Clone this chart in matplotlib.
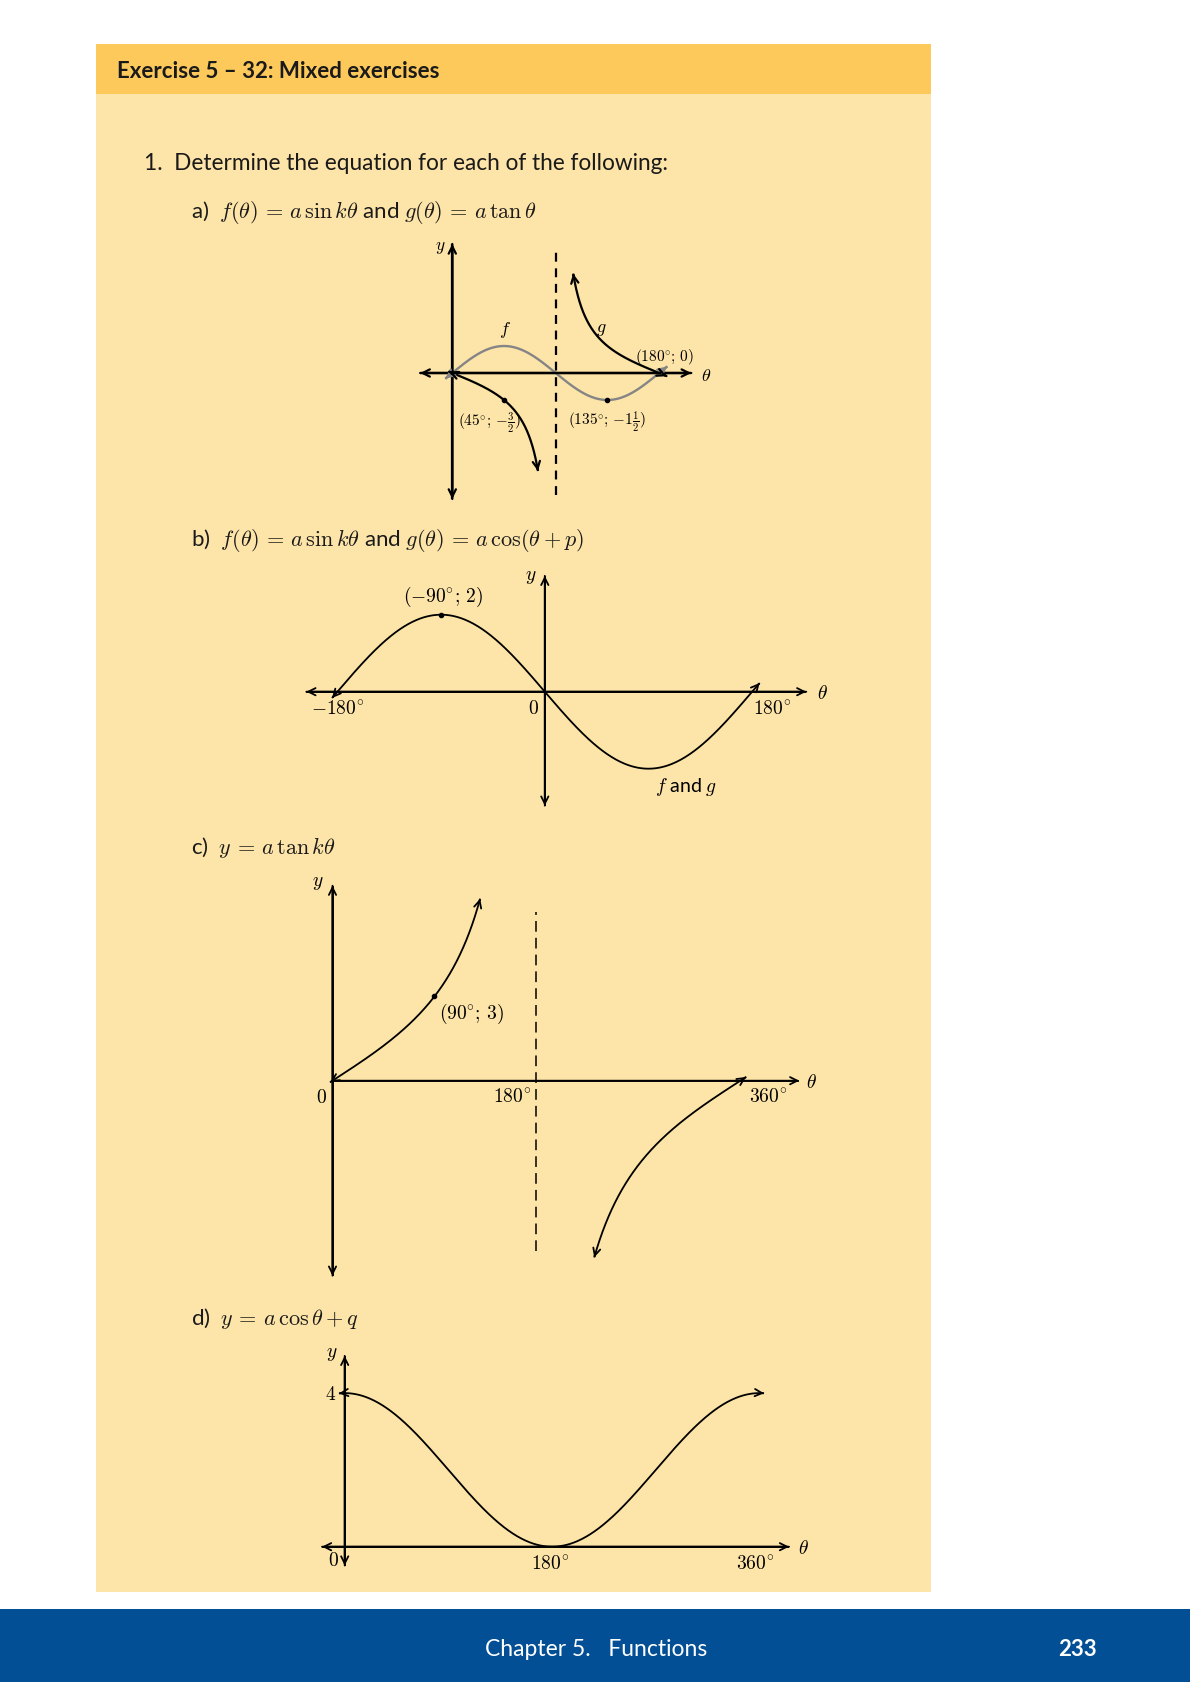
import numpy as np
import matplotlib.pyplot as plt
from matplotlib.patches import Rectangle

W, H = 1190, 1683
plt.rcParams['font.family'] = ['Lato', 'DejaVu Sans']
plt.rcParams['mathtext.fontset'] = 'cm'

CREAM = '#FDE4A8'
HEAD = '#FEC95B'
BLUE = '#034F96'
GREY = '#858585'

# ---------------- data ----------------
# a) f = 1.5 sin 2θ (grey), g = -1.5 tan θ (black)
a_f_amp, a_f_k = 1.5, 2
a_f_range = [-6, 187]
a_g_amp = -1.5
a_g_ranges = [[-3, 74.6], [105.2, 186.6]]
a_dots_x = [45, 135]
a_dots_y = [-1.5, -1.5]
a_xaxis = [-28, 208]
a_yaxis = [-7.0, 7.17]
a_asym_x, a_asym_y = 90, [-6.8, 6.8]

# b) f = g = -2 sin θ
b_amp = -2
b_range = [-184.7, 186.5]
b_dot = (-90, 2)
b_xaxis = [-207, 227]
b_yaxis = [-2.96, 3.01]

# c) y = 3 tan(θ/2)
c_amp, c_k = 3, 0.5
c_ranges = [[-2, 130.3], [231, 365]]
c_dot = (90, 3)
c_xaxis = [0, 412]
c_yaxis = [-6.94, 6.94]
c_asym_x, c_asym_y = 180, [-6.05, 6.0]

# d) y = 2 cos θ + 2
d_amp, d_q = 2, 2
d_range = [-5, 364]
d_xaxis = [-19.7, 385.7]
d_yaxis = [-0.49, 4.97]

fig = plt.figure(figsize=(W / 100, H / 100), dpi=100)
fig.patch.set_facecolor('white')

# page background
bg = fig.add_axes([0, 0, 1, 1])
bg.set_xlim(0, W); bg.set_ylim(H, 0); bg.axis('off')
bg.add_patch(Rectangle((95.5, 94), 835.5, 1499, color=CREAM, lw=0))
bg.add_patch(Rectangle((95.5, 45), 835.5, 49.5, color=HEAD, lw=0))
bg.add_patch(Rectangle((0, 1610), W, 73, color=BLUE, lw=0))
bg.text(117, 71.5, 'Exercise 5 \u2013 32: Mixed exercises', fontsize=16, weight='bold',
        va='center', ha='left', color='#1a1a1a')
bg.text(144, 164, '1.  Determine the equation for each of the following:', fontsize=16.3,
        va='center', ha='left', color='#1a1a1a')
bg.text(191, 212, r'a)  $f(\theta)\,=\,a\,\sin k\theta$ and $g(\theta)\,=\,a\,\tan\theta$',
        fontsize=16, va='center', ha='left', color='#1a1a1a')
bg.text(191, 541, r'b)  $f(\theta)\,=\,a\,\sin k\theta$ and $g(\theta)\,=\,a\,\cos(\theta+p)$',
        fontsize=16, va='center', ha='left', color='#1a1a1a')
bg.text(191, 848, r'c)  $y\,=\,a\,\tan k\theta$', fontsize=16, va='center', ha='left', color='#1a1a1a')
bg.text(191, 1319, r'd)  $y\,=\,a\,\cos\theta+q$', fontsize=16, va='center', ha='left', color='#1a1a1a')
bg.text(596, 1650, 'Chapter 5.   Functions', fontsize=16.5, color='white', ha='center', va='center')
bg.text(1077, 1650, '233', fontsize=16, color='white', weight='bold', ha='center', va='center')


def make_ax(ox, oy, sx, sy, box):
    l, t, r, b = box
    ax = fig.add_axes([l / W, 1 - b / H, (r - l) / W, (b - t) / H])
    ax.set_xlim((l - ox) / sx, (r - ox) / sx)
    ax.set_ylim((oy - b) / sy, (oy - t) / sy)
    ax.axis('off')
    return ax


def arrow_line(ax, x, y, color='black', lw=1.3, start=True, end=True, ms=13, **kw):
    ax.plot(x, y, color=color, lw=lw, solid_capstyle='butt', clip_on=False, **kw)
    ap = dict(arrowstyle='->', color=color, lw=lw, shrinkA=0, shrinkB=0, mutation_scale=ms)
    if start:
        ax.annotate('', xy=(x[0], y[0]), xytext=(x[1], y[1]), arrowprops=ap, annotation_clip=False)
    if end:
        ax.annotate('', xy=(x[-1], y[-1]), xytext=(x[-2], y[-2]), arrowprops=ap, annotation_clip=False)


# ---------------- graph a ----------------
ax = make_ax(452.3, 374, 1.149, 18, (380, 235, 730, 510))
arrow_line(ax, np.array(a_xaxis), np.array([0, 0]), lw=1.6)
arrow_line(ax, np.array([0, 0]), np.array(a_yaxis), lw=1.6)
ax.plot([a_asym_x, a_asym_x], a_asym_y, color='black', lw=1.6, ls=(0, (4, 3)), clip_on=False)
t = np.linspace(a_f_range[0], a_f_range[1], 400)
arrow_line(ax, t, a_f_amp * np.sin(np.radians(a_f_k * t)), color=GREY, lw=1.7)
for lo, hi in a_g_ranges:
    t = np.linspace(lo, hi, 400)
    arrow_line(ax, t, a_g_amp * np.tan(np.radians(t)), lw=1.6)
ax.plot(a_dots_x, a_dots_y, 'o', color='black', ms=3, clip_on=False)
ax.text(-10.7, 7.0, r'$y$', fontsize=12.5, ha='center', va='center')
ax.text(221, -0.1, r'$\theta$', fontsize=13, ha='center', va='center')
ax.text(45.9, 2.44, r'$f$', fontsize=13, ha='center', va='center')
ax.text(130, 2.44, r'$g$', fontsize=13, ha='center', va='center')
ax.text(185, 0.96, r'$(180^{\circ};\,0)$', fontsize=11, ha='center', va='center')
ax.text(32.8, -2.72, r'$(45^{\circ};\,{-}\frac{3}{2})$', fontsize=11, ha='center', va='center')
ax.text(134.4, -2.65, r'$(135^{\circ};\,{-}1\frac{1}{2})$', fontsize=11, ha='center', va='center')

# ---------------- graph b ----------------
ax = make_ax(544.8, 692.7, 1.152, 38.5, (280, 565, 840, 815))
arrow_line(ax, np.array(b_xaxis), np.array([0, 0]), lw=1.3)
arrow_line(ax, np.array([0, 0]), np.array(b_yaxis), lw=1.3)
t = np.linspace(b_range[0], b_range[1], 500)
arrow_line(ax, t, b_amp * np.sin(np.radians(t)), lw=1.3)
ax.plot([b_dot[0]], [b_dot[1]], 'o', color='black', ms=3)
ax.text(-12, 3.0, r'$y$', fontsize=14, ha='center', va='center')
ax.text(240.6, 0, r'$\theta$', fontsize=14, ha='center', va='center')
ax.text(-88.2, 2.49, r'$(-90^{\circ};\,2)$', fontsize=14, ha='center', va='center')
ax.text(-179.5, -0.41, r'$-180^{\circ}$', fontsize=14, ha='center', va='center')
ax.text(-9.5, -0.41, r'$0$', fontsize=14, ha='center', va='center')
ax.text(197, -0.41, r'$180^{\circ}$', fontsize=14, ha='center', va='center')
ax.text(122.6, -2.44, r'$f$ and $g$', fontsize=14, ha='center', va='center')

# ---------------- graph c ----------------
ax = make_ax(332.5, 1081.7, 1.133, 28.1, (290, 870, 830, 1290))
arrow_line(ax, np.array(c_xaxis), np.array([0, 0]), lw=1.3, start=False)
arrow_line(ax, np.array([0, 0]), np.array(c_yaxis), lw=1.3)
ax.plot([c_asym_x, c_asym_x], c_asym_y, color='black', lw=1.1, ls=(0, (7, 4)), clip_on=False)
for lo, hi in c_ranges:
    t = np.linspace(lo, hi, 400)
    arrow_line(ax, t, c_amp * np.tan(np.radians(c_k * t)), lw=1.3)
ax.plot([c_dot[0]], [c_dot[1]], 'o', color='black', ms=3)
ax.text(-13.2, 7.06, r'$y$', fontsize=14, ha='center', va='center')
ax.text(423, 0, r'$\theta$', fontsize=14, ha='center', va='center')
ax.text(-10, -0.53, r'$0$', fontsize=14, ha='center', va='center')
ax.text(158.4, -0.53, r'$180^{\circ}$', fontsize=14, ha='center', va='center')
ax.text(384, -0.53, r'$360^{\circ}$', fontsize=14, ha='center', va='center')
ax.text(123, 2.41, r'$(90^{\circ};\,3)$', fontsize=14, ha='center', va='center')

# ---------------- graph d ----------------
ax = make_ax(344.7, 1547.7, 1.152, 38.4, (290, 1340, 830, 1590))
arrow_line(ax, np.array(d_xaxis), np.array([0, 0]), lw=1.3)
arrow_line(ax, np.array([0, 0]), np.array(d_yaxis), lw=1.3)
t = np.linspace(d_range[0], d_range[1], 500)
arrow_line(ax, t, d_amp * np.cos(np.radians(t)) + d_q, lw=1.3)
ax.text(-11.3, 5.02, r'$y$', fontsize=14, ha='center', va='center')
ax.text(-11.9, 4.0, r'$4$', fontsize=14, ha='center', va='center')
ax.text(-9.8, -0.32, r'$0$', fontsize=14, ha='center', va='center')
ax.text(178.5, -0.42, r'$180^{\circ}$', fontsize=14, ha='center', va='center')
ax.text(356, -0.42, r'$360^{\circ}$', fontsize=14, ha='center', va='center')
ax.text(398, 0, r'$\theta$', fontsize=14, ha='center', va='center')

fig.savefig('out.png', dpi=100, facecolor='white')
